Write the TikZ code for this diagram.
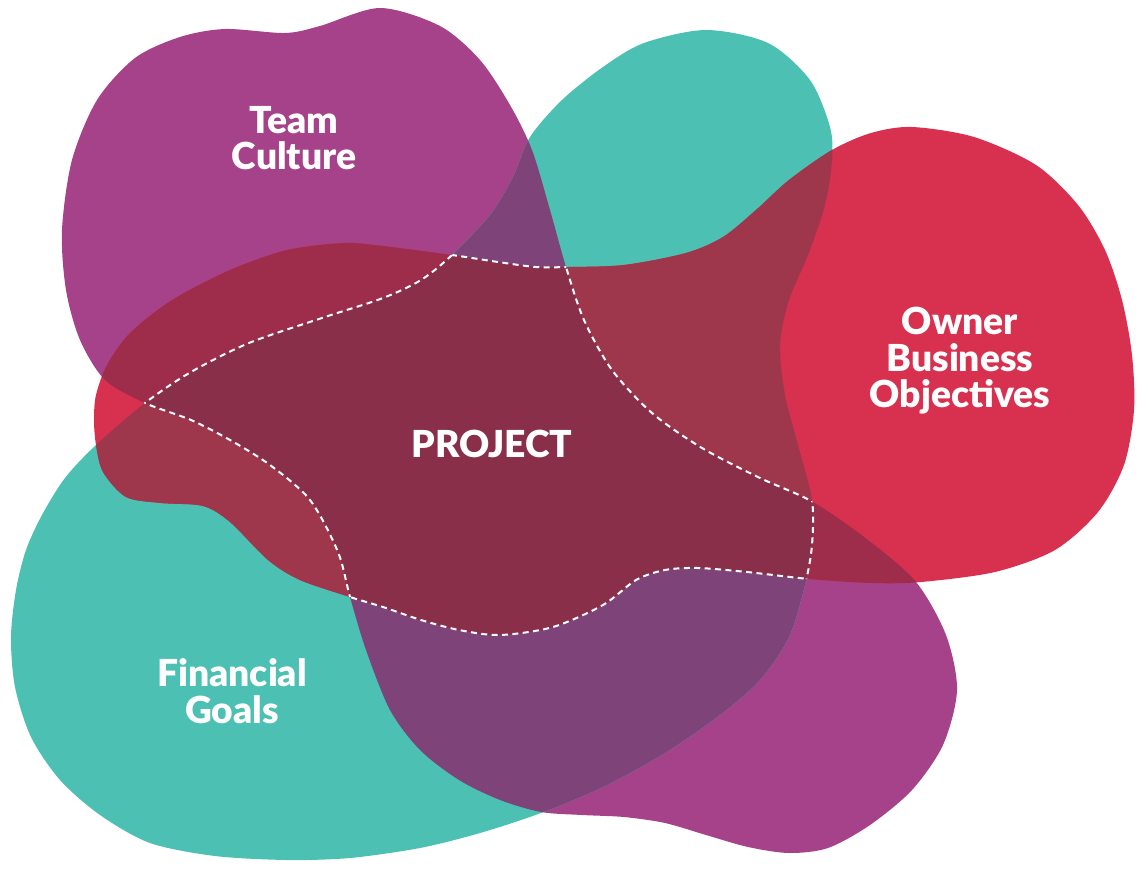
\documentclass[tikz,border=0pt]{standalone}
\usepackage{fontspec}
\setmainfont{Lato}
\newfontfamily\blobfont{Lato Black}
\definecolor{culturepurple}{RGB}{165,66,138}
\definecolor{fundsteal}{RGB}{76,192,179}
\definecolor{ownerred}{RGB}{216,48,79}
\definecolor{cultfunds}{RGB}{126,68,121}
\definecolor{cultowner}{RGB}{158,45,76}
\definecolor{fundsowner}{RGB}{158,54,76}
\definecolor{projectred}{RGB}{138,47,74}

% the three blobs, in pixel units (y downwards)
\newcommand{\cultureblob}{plot[smooth cycle] coordinates {(380,8) (440,26) (480,60) (510,105) (532,150) (550,210) (566,267) (584,320) (612,370) (652,413) (702,448) (760,478) (813,502) (868,540) (916,582) (946,635) (957,690) (943,745) (912,790) (870,825) (828,848) (789,853) (748,847) (706,835) (665,823) (624,817) (582,815) (541,812) (500,800) (459,780) (420,750) (390,710) (366,650) (350,597) (338,552) (310,500) (270,465) (230,440) (191,420) (145,403) (105,380) (80,340) (66,290) (62,230) (72,160) (97,100) (135,58) (180,37) (225,29) (285,33) (320,26)}}
\newcommand{\fundsblob}{plot[smooth cycle] coordinates {(706,30) (768,43) (810,80) (830,127) (832,160) (825,205) (808,255) (789,300) (780,345) (785,395) (798,445) (812,500) (812,545) (805,585) (789,637) (760,680) (720,715) (665,753) (603,787) (541,813) (480,833) (420,848) (350,858) (287,860) (215,856) (150,843) (100,815) (60,780) (31,737) (15,687) (11,637) (16,590) (26,550) (42,515) (65,478) (96,445) (145,403) (191,372) (249,343) (325,317) (383,298) (421,280) (452,255) (490,215) (513,177) (530,137) (562,100) (603,67) (644,43)}}
\newcommand{\ownerblob}{plot[smooth cycle] coordinates {(94,420) (96,395) (107,365) (130,333) (172,300) (230,270) (287,250) (344,243) (383,246) (452,255) (498,262) (536,267) (568,267) (624,265) (686,253) (723,237) (756,210) (789,180) (832,150) (871,133) (912,127) (974,137) (1036,165) (1078,205) (1105,250) (1122,300) (1132,355) (1134,410) (1124,465) (1098,512) (1055,550) (995,572) (921,582) (871,583) (809,579) (747,572) (698,568) (665,570) (636,580) (603,605) (553,627) (500,635) (459,630) (421,620) (383,607) (350,597) (300,580) (268,560) (230,522) (203,506) (161,503) (126,497) (103,472) (96,445)}}

\begin{document}
\begin{tikzpicture}[x=0.5pt, y=-0.5pt,
    blob label/.style={text=white, align=center, font=\fontsize{18.6}{18.2}\blobfont},
    project edge/.style={white, line width=1pt, dash pattern=on 3pt off 2.2pt}]
    \useasboundingbox (0,0) rectangle (1137,872);

    % Blobs
    \fill[culturepurple] \cultureblob;
    \fill[fundsteal] \fundsblob;
    \fill[ownerred] \ownerblob;

    % Overlaps
    \begin{scope}
        \clip \cultureblob;
        \fill[cultfunds] \fundsblob;
        \fill[cultowner] \ownerblob;
    \end{scope}
    \begin{scope}
        \clip \fundsblob;
        \fill[fundsowner] \ownerblob;
    \end{scope}
    \begin{scope}
        \clip \cultureblob;
        \clip \fundsblob;
        \fill[projectred] \ownerblob;
    \end{scope}

    % Dashed outline of the project
    \begin{scope}
        \clip \cultureblob;
        \clip \fundsblob;
        \draw[project edge] \ownerblob;
    \end{scope}
    \begin{scope}
        \clip \cultureblob;
        \clip \ownerblob;
        \draw[project edge] \fundsblob;
    \end{scope}
    \begin{scope}
        \clip \fundsblob;
        \clip \ownerblob;
        \draw[project edge] \cultureblob;
    \end{scope}

    % Labels
    \node[blob label] (team) at (294,138) {Team\\Culture};
    \node[blob label] (owner) at (960,361) {Owner\\Business\\Objectives};
    \node[blob label] (project) at (492,444) {PROJECT};
    \node[blob label] (finance) at (232,691) {Financial\\Goals};
\end{tikzpicture}
\end{document}
